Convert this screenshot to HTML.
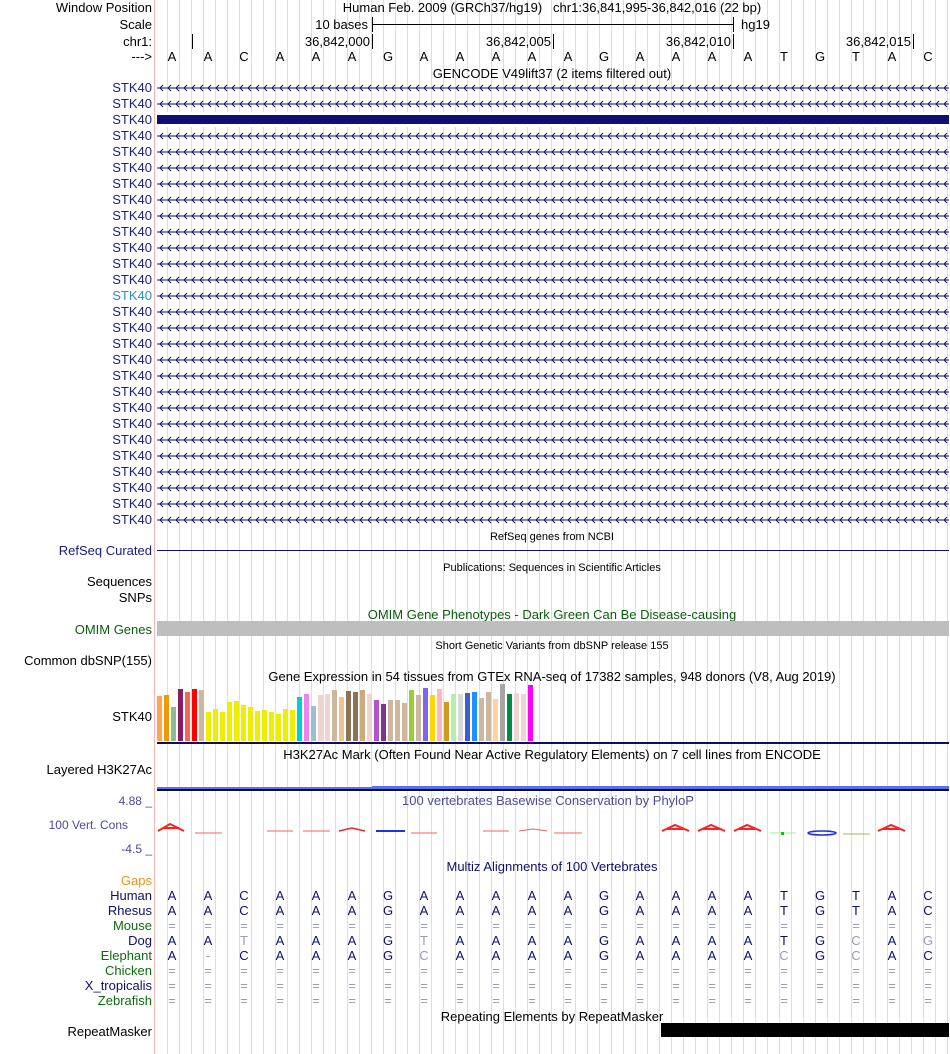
<!DOCTYPE html>
<html><head><meta charset="utf-8"><style>
html,body{margin:0;padding:0;background:#fff;}
svg{display:block;font-family:"Liberation Sans",Arial,sans-serif;}
</style></head><body>
<svg width="950" height="1054" viewBox="0 0 950 1054" xmlns="http://www.w3.org/2000/svg">
<defs>
<pattern id="grid" patternUnits="userSpaceOnUse" x="0" y="0" width="12" height="10">
<rect x="11" y="0" width="1" height="10" fill="#DCDAF4"/>
</pattern>
<pattern id="gene" patternUnits="userSpaceOnUse" x="157" y="80" width="8" height="16">
<rect x="0" y="7.5" width="8" height="1" fill="#0E0E73"/>
<path d="M6,5 L3,8 L6,11" fill="none" stroke="#0E0E73" stroke-width="1"/>
</pattern>
</defs>
<rect x="0" y="0" width="950" height="1054" fill="#fff"/>
<rect x="157" y="0" width="793" height="1054" fill="url(#grid)"/>
<rect x="154" y="0" width="1" height="1054" fill="#FFB4B4"/>

<g font-size="13" fill="#000" text-anchor="end">
<text x="152" y="12">Window Position</text>
<text x="152" y="29">Scale</text>
<text x="152" y="46">chr1:</text>
<text x="152" y="61">---&gt;</text>
</g>
<text x="552" y="12" font-size="13" text-anchor="middle" xml:space="preserve" style="white-space:pre">Human Feb. 2009 (GRCh37/hg19)   chr1:36,841,995-36,842,016 (22 bp)</text>
<text x="368" y="29" font-size="13" text-anchor="end">10 bases</text>
<rect x="372" y="24" width="361" height="1" fill="#000"/>
<rect x="372" y="17" width="1" height="15" fill="#000"/>
<rect x="733" y="17" width="1" height="15" fill="#000"/>
<text x="741" y="29" font-size="13">hg19</text>
<rect x="192" y="34" width="1" height="15" fill="#000"/>
<rect x="372" y="34" width="1" height="15" fill="#000"/>
<rect x="553" y="34" width="1" height="15" fill="#000"/>
<rect x="733" y="34" width="1" height="15" fill="#000"/>
<rect x="913" y="34" width="1" height="15" fill="#000"/>
<g font-size="13" text-anchor="end">
<text x="370" y="46">36,842,000</text>
<text x="551" y="46">36,842,005</text>
<text x="731" y="46">36,842,010</text>
<text x="911" y="46">36,842,015</text>
</g>
<text font-size="13" text-anchor="middle" y="61" x="172 208 244 280 316 352 388 424 460 496 532 568 604 640 676 712 748 784 820 856 892 928">AACAAAGAAAAAGAAAATGTAC</text>
<text x="552" y="78" font-size="13" text-anchor="middle">GENCODE V49lift37 (2 items filtered out)</text>

<rect x="157" y="80" width="792" height="448" fill="url(#gene)"/>
<rect x="157" y="112" width="792" height="15" fill="#fff"/>
<rect x="157" y="115" width="792" height="9" fill="#0E0E73"/>
<g font-size="13" fill="#1B1B8A" text-anchor="end">
<text x="152" y="92">STK40</text><text x="152" y="108">STK40</text><text x="152" y="124">STK40</text><text x="152" y="140">STK40</text>
<text x="152" y="156">STK40</text><text x="152" y="172">STK40</text><text x="152" y="188">STK40</text><text x="152" y="204">STK40</text>
<text x="152" y="220">STK40</text><text x="152" y="236">STK40</text><text x="152" y="252">STK40</text><text x="152" y="268">STK40</text>
<text x="152" y="284">STK40</text><text x="152" y="300" fill="#2A8CC8">STK40</text><text x="152" y="316">STK40</text><text x="152" y="332">STK40</text>
<text x="152" y="348">STK40</text><text x="152" y="364">STK40</text><text x="152" y="380">STK40</text><text x="152" y="396">STK40</text>
<text x="152" y="412">STK40</text><text x="152" y="428">STK40</text><text x="152" y="444">STK40</text><text x="152" y="460">STK40</text>
<text x="152" y="476">STK40</text><text x="152" y="492">STK40</text><text x="152" y="508">STK40</text><text x="152" y="524">STK40</text>
</g>

<text x="552" y="540" font-size="11" text-anchor="middle">RefSeq genes from NCBI</text>
<text x="152" y="555" font-size="13" fill="#1B1B8A" text-anchor="end">RefSeq Curated</text>
<rect x="157" y="550" width="792" height="1" fill="#0E0E73"/>
<text x="552" y="571" font-size="11" text-anchor="middle">Publications: Sequences in Scientific Articles</text>
<text x="152" y="586" font-size="13" text-anchor="end">Sequences</text>
<text x="152" y="602" font-size="13" text-anchor="end">SNPs</text>
<text x="552" y="619" font-size="13" fill="#0C5C0C" text-anchor="middle">OMIM Gene Phenotypes - Dark Green Can Be Disease-causing</text>
<text x="152" y="634" font-size="13" fill="#0C5C0C" text-anchor="end">OMIM Genes</text>
<rect x="157" y="621" width="792" height="15" fill="#BEBEBE"/>
<text x="552" y="649" font-size="11" text-anchor="middle">Short Genetic Variants from dbSNP release 155</text>
<text x="152" y="665" font-size="13" text-anchor="end">Common dbSNP(155)</text>
<text x="552" y="681" font-size="13" text-anchor="middle">Gene Expression in 54 tissues from GTEx RNA-seq of 17382 samples, 948 donors (V8, Aug 2019)</text>
<text x="152" y="721" font-size="13" text-anchor="end">STK40</text>

<g>
<rect x="157" y="696" width="5" height="45" fill="#FFA54F"/>
<rect x="164" y="695" width="5" height="46" fill="#EE9A00"/>
<rect x="171" y="707" width="5" height="34" fill="#8FBC8F"/>
<rect x="178" y="689" width="5" height="52" fill="#8B1C62"/>
<rect x="185" y="692" width="5" height="49" fill="#EE6A50"/>
<rect x="192" y="689" width="5" height="52" fill="#FF0000"/>
<rect x="199" y="690" width="5" height="51" fill="#CDB79E"/>
<rect x="206" y="712" width="5" height="29" fill="#EEEE00"/>
<rect x="213" y="709" width="5" height="32" fill="#EEEE00"/>
<rect x="220" y="712" width="5" height="29" fill="#EEEE00"/>
<rect x="227" y="702" width="5" height="39" fill="#EEEE00"/>
<rect x="234" y="701" width="5" height="40" fill="#EEEE00"/>
<rect x="241" y="705" width="5" height="36" fill="#EEEE00"/>
<rect x="248" y="707" width="5" height="34" fill="#EEEE00"/>
<rect x="255" y="711" width="5" height="30" fill="#EEEE00"/>
<rect x="262" y="710" width="5" height="31" fill="#EEEE00"/>
<rect x="269" y="712" width="5" height="29" fill="#EEEE00"/>
<rect x="276" y="714" width="5" height="27" fill="#EEEE00"/>
<rect x="283" y="709" width="5" height="32" fill="#EEEE00"/>
<rect x="290" y="710" width="5" height="31" fill="#EEEE00"/>
<rect x="297" y="697" width="5" height="44" fill="#00CED1"/>
<rect x="304" y="694" width="5" height="47" fill="#EE82EE"/>
<rect x="311" y="706" width="5" height="35" fill="#9AC0CD"/>
<rect x="318" y="695" width="5" height="46" fill="#EED5D2"/>
<rect x="325" y="694" width="5" height="47" fill="#EED5D2"/>
<rect x="332" y="690" width="5" height="51" fill="#CDB79E"/>
<rect x="339" y="697" width="5" height="44" fill="#EEC591"/>
<rect x="346" y="691" width="5" height="50" fill="#8B7355"/>
<rect x="353" y="692" width="5" height="49" fill="#8B7355"/>
<rect x="360" y="690" width="5" height="51" fill="#CDAA7D"/>
<rect x="367" y="694" width="5" height="47" fill="#EED5D2"/>
<rect x="374" y="700" width="5" height="41" fill="#B452CD"/>
<rect x="381" y="704" width="5" height="37" fill="#7A378B"/>
<rect x="388" y="700" width="5" height="41" fill="#CDB79E"/>
<rect x="395" y="700" width="5" height="41" fill="#CDB79E"/>
<rect x="402" y="703" width="5" height="38" fill="#CDB79E"/>
<rect x="409" y="690" width="5" height="51" fill="#9ACD32"/>
<rect x="416" y="695" width="5" height="46" fill="#CDB79E"/>
<rect x="423" y="688" width="5" height="53" fill="#7B68EE"/>
<rect x="430" y="695" width="5" height="46" fill="#FFD700"/>
<rect x="437" y="689" width="5" height="52" fill="#FFB6C1"/>
<rect x="444" y="702" width="5" height="39" fill="#CD9B1D"/>
<rect x="451" y="694" width="5" height="47" fill="#B4EEB4"/>
<rect x="458" y="694" width="5" height="47" fill="#D9D9D9"/>
<rect x="465" y="693" width="5" height="48" fill="#3A5FCD"/>
<rect x="472" y="692" width="5" height="49" fill="#1E90FF"/>
<rect x="479" y="698" width="5" height="43" fill="#CDB79E"/>
<rect x="486" y="692" width="5" height="49" fill="#CDB79E"/>
<rect x="493" y="699" width="5" height="42" fill="#FFD39B"/>
<rect x="500" y="684" width="5" height="57" fill="#A6A6A6"/>
<rect x="507" y="694" width="5" height="47" fill="#008B45"/>
<rect x="514" y="693" width="5" height="48" fill="#EED5D2"/>
<rect x="521" y="694" width="5" height="47" fill="#EED5D2"/>
<rect x="528" y="685" width="5" height="56" fill="#FF00FF"/>
</g>
<rect x="157" y="742" width="792" height="2" fill="#0E0E5A"/>
<text x="552" y="759" font-size="13" text-anchor="middle">H3K27Ac Mark (Often Found Near Active Regulatory Elements) on 7 cell lines from ENCODE</text>
<text x="152" y="774" font-size="13" text-anchor="end">Layered H3K27Ac</text>
<rect x="157" y="787" width="215" height="2" fill="#5A6EF0"/>
<rect x="372" y="786" width="577" height="3" fill="#5A6EF0"/>
<rect x="157" y="789" width="792" height="2" fill="#10102A"/>

<text x="548" y="805" font-size="13" fill="#4B4B9B" text-anchor="middle">100 vertebrates Basewise Conservation by PhyloP</text>
<g font-size="12" fill="#4B4B9B" text-anchor="end">
<text x="152" y="805">4.88 _</text>
<text x="128" y="829">100 Vert. Cons</text>
<text x="152" y="853">-4.5 _</text>
</g>
<g fill="none" stroke="#FF2020" stroke-width="2">
<path d="M158,831 L170,824 L184,831 M163,828 L179,828"/>
<path d="M195,833 L222,833" stroke-width="1" stroke="#F06060"/>
<path d="M267,831 L293,831 M303,831 L330,831" stroke-width="1" stroke="#F06060"/>
<path d="M339,831 L352,828 L365,831" stroke-width="1.5"/>
<path d="M411,833 L437,833 M483,831 L509,831" stroke-width="1" stroke="#F06060"/>
<path d="M519,831 L533,829 L547,831" stroke-width="1" stroke="#F06060"/>
<path d="M554,833 L582,833" stroke-width="1" stroke="#F06060"/>
<path d="M662,831 L675,825 L689,831 M667,829 L684,829"/>
<path d="M698,831 L711,825 L725,831 M703,829 L720,829"/>
<path d="M734,831 L747,825 L761,831 M739,829 L756,829"/>
<path d="M878,831 L891,825 L905,831 M883,829 L900,829"/>
</g>
<path d="M376,831 L405,831" stroke="#2030E0" stroke-width="2"/>
<path d="M770,833 L796,833" stroke="#9AF09A" stroke-width="1"/>
<rect x="781" y="832" width="3" height="3" fill="#00D000"/>
<ellipse cx="822" cy="833" rx="14" ry="2" fill="none" stroke="#2030E0" stroke-width="1.5"/>
<path d="M843,834 L870,834" stroke="#B0B060" stroke-width="1"/>

<text x="552" y="871" font-size="13" fill="#0E0E73" text-anchor="middle">Multiz Alignments of 100 Vertebrates</text>
<g font-size="13" text-anchor="end">
<text x="152" y="885" fill="#F09010">Gaps</text>
<text x="152" y="900" fill="#0E0E73">Human</text>
<text x="152" y="915" fill="#0E0E73">Rhesus</text>
<text x="152" y="930" fill="#0C6C0C">Mouse</text>
<text x="152" y="945" fill="#0E0E73">Dog</text>
<text x="152" y="960" fill="#0C6C0C">Elephant</text>
<text x="152" y="975" fill="#0C6C0C">Chicken</text>
<text x="152" y="990" fill="#0E0E73">X_tropicalis</text>
<text x="152" y="1005" fill="#0C6C0C">Zebrafish</text>
</g>
<g font-size="13" text-anchor="middle" fill="#0E0E73">
<text y="900" x="172 208 244 280 316 352 388 424 460 496 532 568 604 640 676 712 748 784 820 856 892 928">AACAAAGAAAAAGAAAATGTAC</text>
<text y="915" x="172 208 244 280 316 352 388 424 460 496 532 568 604 640 676 712 748 784 820 856 892 928">AACAAAGAAAAAGAAAATGTAC</text>
<text y="930" fill="#9A9AC8" x="172 208 244 280 316 352 388 424 460 496 532 568 604 640 676 712 748 784 820 856 892 928">======================</text>
<text y="945" x="172 208 280 316 352 388 460 496 532 568 604 640 676 712 748 784 820 892">AAAAAGAAAAGAAAATGA</text>
<text y="945" fill="#9A9AC0" x="244 424 856 928">TTCG</text>
<text y="960" x="172 244 280 316 352 388 460 496 532 568 604 640 676 712 748 820 892 928">ACAAAGAAAAGAAAAGAC</text>
<text y="960" fill="#9A9AC0" x="208 424 784 856">-CCC</text>
<text y="975" fill="#9A9AC8" x="172 208 244 280 316 352 388 424 460 496 532 568 604 640 676 712 748 784 820 856 892 928">======================</text>
<text y="990" fill="#9A9AC8" x="172 208 244 280 316 352 388 424 460 496 532 568 604 640 676 712 748 784 820 856 892 928">======================</text>
<text y="1005" fill="#9A9AC8" x="172 208 244 280 316 352 388 424 460 496 532 568 604 640 676 712 748 784 820 856 892 928">======================</text>
</g>
<text x="552" y="1021" font-size="13" text-anchor="middle">Repeating Elements by RepeatMasker</text>
<text x="152" y="1036" font-size="13" text-anchor="end">RepeatMasker</text>
<rect x="661" y="1023" width="288" height="14" fill="#000"/>
</svg>
</body></html>
